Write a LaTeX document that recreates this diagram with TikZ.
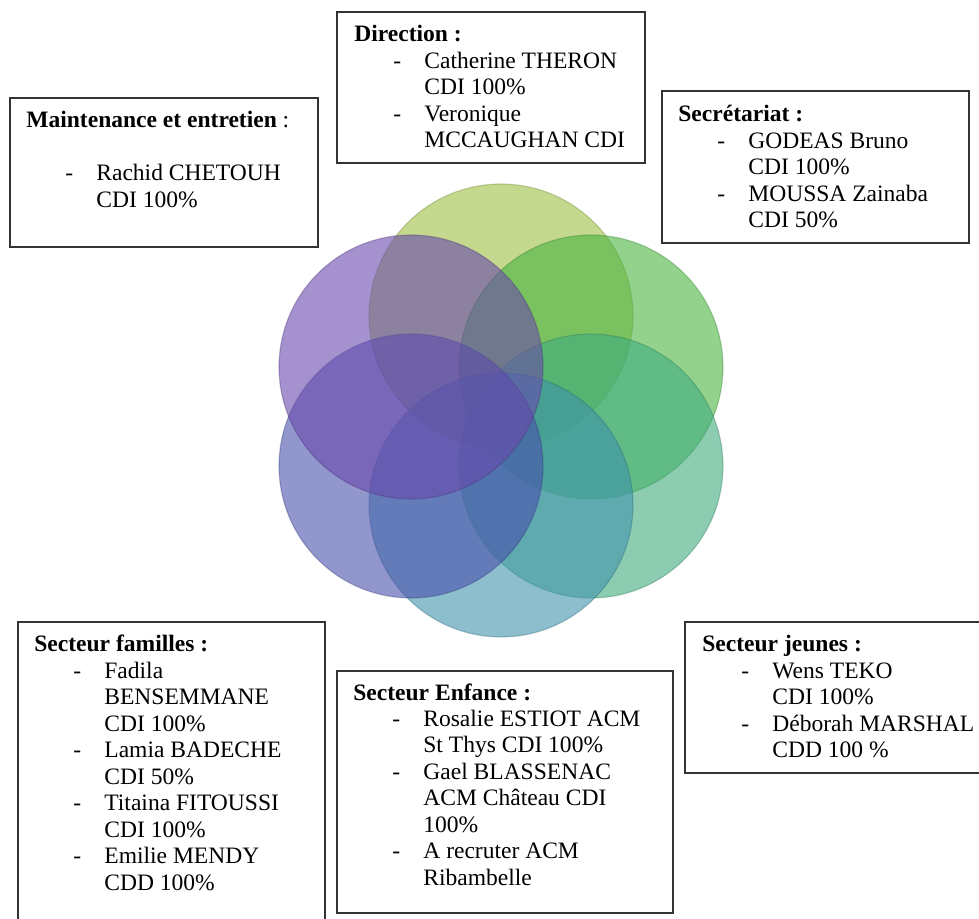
\documentclass[tikz,border=0pt]{standalone}
\usepackage{fontspec}
\setmainfont{Liberation Serif}
\definecolor{petalA}{RGB}{157,190,67}
\definecolor{petalB}{RGB}{73,180,63}
\definecolor{petalC}{RGB}{63,172,127}
\definecolor{petalD}{RGB}{63,147,172}
\definecolor{petalE}{RGB}{72,80,172}
\definecolor{petalF}{RGB}{105,72,172}
\newcommand{\staffline}[1]{\hspace*{19.9pt}\makebox[15.8pt][l]{-}#1}
\newcommand{\staffcont}[1]{\hspace*{35.7pt}#1}
\tikzset{
  petal/.style={fill=#1, fill opacity=0.6, draw=#1!70!black, draw opacity=0.35, line width=0.6pt},
  staffbox/.style={draw=black!80, line width=0.7pt, inner sep=0pt, outer sep=0pt, anchor=north west},
  stafftext/.style={anchor=base west, inner sep=0pt, font=\fontsize{12}{13.5}\selectfont}
}
\begin{document}
\begin{tikzpicture}[x=0.51pt, y=-0.51pt]
  \useasboundingbox (0,0) rectangle (979,919);
  \clip (0,0) rectangle (979,919);
  % petals
  \filldraw[petal=petalA] (501,316) circle[radius=67.3pt];
  \filldraw[petal=petalB] (591,367) circle[radius=67.3pt];
  \filldraw[petal=petalC] (591,466) circle[radius=67.3pt];
  \filldraw[petal=petalD] (501,505) circle[radius=67.3pt];
  \filldraw[petal=petalE] (411,466) circle[radius=67.3pt];
  \filldraw[petal=petalF] (411,367) circle[radius=67.3pt];
  % boxes
  \node[staffbox, minimum width=308*0.51pt, minimum height=149*0.51pt] (maintenance) at (10,98) {};
  \node[staffbox, minimum width=308*0.51pt, minimum height=151*0.51pt] (direction) at (337,12) {};
  \node[staffbox, minimum width=307*0.51pt, minimum height=152*0.51pt] (secretariat) at (662,91) {};
  \node[staffbox, minimum width=307*0.51pt, minimum height=320*0.51pt] (familles) at (18,622) {};
  \node[staffbox, minimum width=336*0.51pt, minimum height=242*0.51pt] (enfance) at (337,671) {};
  \node[staffbox, minimum width=320*0.51pt, minimum height=151*0.51pt] (jeunes) at (685,622) {};
  % texts
  \node[stafftext] (maintenance-txt) at ([shift={(16,30)}]maintenance.north west) {\parbox[t]{300pt}{\raggedright
    \textbf{Maintenance et entretien} :\\ \mbox{}\\
    \staffline{Rachid CHETOUH}\\ \staffcont{CDI 100\%}}};
  \node[stafftext] (direction-txt) at ([shift={(17,30)}]direction.north west) {\parbox[t]{300pt}{\raggedright
    \textbf{Direction :}\\
    \staffline{Catherine THERON}\\ \staffcont{CDI 100\%}\\
    \staffline{Veronique}\\ \staffcont{MCCAUGHAN CDI}}};
  \node[stafftext] (secretariat-txt) at ([shift={(16,31)}]secretariat.north west) {\parbox[t]{300pt}{\raggedright
    \textbf{Secrétariat :}\\
    \staffline{GODEAS Bruno}\\ \staffcont{CDI 100\%}\\
    \staffline{MOUSSA Zainaba}\\ \staffcont{CDI 50\%}}};
  \node[stafftext] (familles-txt) at ([shift={(16,30)}]familles.north west) {\parbox[t]{300pt}{\raggedright
    \textbf{Secteur familles :}\\
    \staffline{Fadila}\\ \staffcont{BENSEMMANE}\\ \staffcont{CDI 100\%}\\
    \staffline{Lamia BADECHE}\\ \staffcont{CDI 50\%}\\
    \staffline{Titaina FITOUSSI}\\ \staffcont{CDI 100\%}\\
    \staffline{Emilie MENDY}\\ \staffcont{CDD 100\%}}};
  \node[stafftext] (enfance-txt) at ([shift={(16,29)}]enfance.north west) {\parbox[t]{300pt}{\raggedright
    \textbf{Secteur Enfance :}\\
    \staffline{Rosalie ESTIOT ACM}\\ \staffcont{St Thys CDI 100\%}\\
    \staffline{Gael BLASSENAC}\\ \staffcont{ACM Château CDI}\\ \staffcont{100\%}\\
    \staffline{A recruter ACM}\\ \staffcont{Ribambelle}}};
  \node[stafftext] (jeunes-txt) at ([shift={(17,30)}]jeunes.north west) {\parbox[t]{300pt}{\raggedright
    \textbf{Secteur jeunes :}\\
    \staffline{Wens TEKO}\\ \staffcont{CDI 100\%}\\
    \staffline{Déborah MARSHAL}\\ \staffcont{CDD 100 \%}}};
\end{tikzpicture}
\end{document}
